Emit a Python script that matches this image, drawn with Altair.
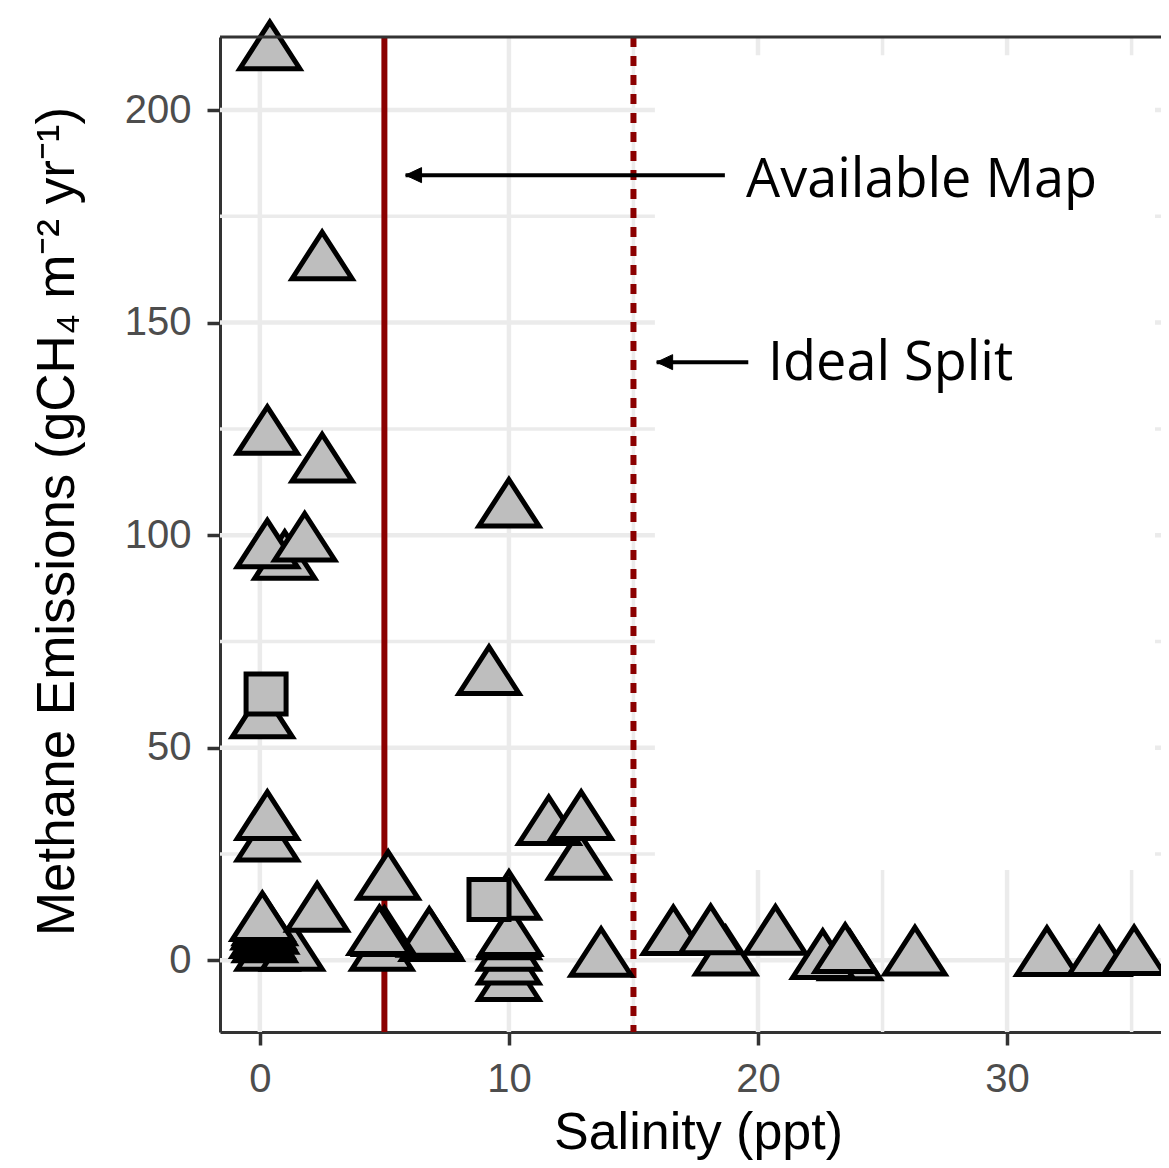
import altair as alt
import pandas as pd

# ---------------- data ----------------
tri_salinity = [0.4, 2.5, 0.3, 2.5, 0.3, 1.0, 1.8, 10.0, 9.2, 0.1, 0.3, 0.3,
                0.1, 0.2, 0.15, 0.25, 0.1, 0.2, 0.3, 1.3, 2.3,
                5.15, 4.8, 5.0, 4.9, 6.8, 6.9,
                10.0, 10.0, 10.05, 10.0, 10.0, 10.0,
                11.6, 12.9, 12.8, 13.7,
                16.6, 18.1, 18.7, 20.7, 22.6, 23.5, 23.7, 26.3, 31.6, 33.7, 35.1]
tri_methane = [213.4, 164.0, 122.9, 116.4, 96.2, 93.5, 97.8, 105.8, 66.4, 56.2, 32.3, 27.2,
               8.5, 7.5, 6.5, 5.5, 4.5, 3.5, 1.5, 1.5, 10.7,
               18.2, 5.2, 5.0, 1.5, 4.8, 3.8,
               13.5, 4.2, 5.0, 1.5, -1.7, -5.6,
               31.1, 32.3, 22.9, 0.1,
               5.2, 5.4, 0.4, 5.3, -0.4, 1.0, -0.7, 0.4, 0.3, 0.3, 0.5]
sq_salinity = [0.25, 9.2]
sq_methane = [62.6, 14.3]

split_values = [5, 15]            # solid (available map), dashed (ideal split)

x_ticks = [0, 10, 20, 30]
x_minor = [5, 15, 25, 35]
y_ticks = [0, 50, 100, 150, 200]
y_minor = [25, 75, 125, 175]

ann_text = ["Available Map", "Ideal Split"]
ann_x = [19.52, 20.4]
ann_y = [179.6, 136.6]
arrow_tip_x = [5.85, 15.93]
arrow_tail_x = [18.67, 19.61]
arrow_y = [184.7, 140.7]

# white annotation box pasted over the panel (hides grid lines)
box_x = [15.86, 35.94]
box_y = [21.2, 212.9]

x_domain = [-1.6, 36.18]
y_domain = [-16.9, 217.2]

W, H = 941, 995

TRI = "M0,-1.033L1,0.517L-1,0.517Z"
ARROW = "M0,0L1,-0.47L1,0.47Z"
GRID = "#EBEBEB"
DARK = "#333333"

xs = alt.Scale(domain=x_domain, nice=False, zero=False)
ys = alt.Scale(domain=y_domain, nice=False, zero=False)

x_axis = alt.Axis(values=x_ticks, title="Salinity (ppt)", grid=False,
                  labelFont="Liberation Sans", labelFontSize=40, labelColor="#4D4D4D",
                  labelPadding=14, labelFlush=False, labelOverlap=False,
                  tickSize=13, tickWidth=3.5, tickColor=DARK,
                  domainColor=DARK, domainWidth=3,
                  titleFont="Liberation Sans", titleFontSize=52, titleFontWeight="normal",
                  titleColor="black", titleX=478, titleY=116, titleAlign="center",
                  titleBaseline="alphabetic")
y_axis = alt.Axis(values=y_ticks, title="Methane Emissions (gCH\u2084 m\u207b\u00b2 yr\u207b\u00b9)",
                  grid=False,
                  labelFont="Liberation Sans", labelFontSize=40, labelColor="#4D4D4D",
                  labelPadding=16, labelFlush=False, labelOverlap=False,
                  tickSize=13, tickWidth=3.5, tickColor=DARK,
                  domainColor=DARK, domainWidth=3,
                  titleFont="Liberation Sans", titleFontSize=53, titleFontWeight="normal",
                  titleColor="black", titleX=-147, titleY=484, titleAngle=270,
                  titleAlign="center", titleBaseline="alphabetic")


def X(field):
    return alt.X(f"{field}:Q", scale=xs, axis=x_axis)


def Y(field):
    return alt.Y(f"{field}:Q", scale=ys, axis=y_axis)


tri_df = pd.DataFrame({"salinity": tri_salinity, "methane": tri_methane})
sq_df = pd.DataFrame({"salinity": sq_salinity, "methane": sq_methane})

tris = alt.Chart(tri_df).mark_point(
    shape=TRI, size=3600, filled=True, fill="#BEBEBE", stroke="black",
    strokeWidth=5, opacity=1, fillOpacity=1, strokeOpacity=1).encode(
    x=X("salinity"), y=Y("methane"), order=alt.Order("methane:Q", sort="ascending"))

gx_major = alt.Chart(pd.DataFrame({"salinity": x_ticks})).mark_rule(
    color=GRID, strokeWidth=4.5).encode(x=X("salinity"))
gx_minor = alt.Chart(pd.DataFrame({"salinity": x_minor})).mark_rule(
    color=GRID, strokeWidth=3.5).encode(x=X("salinity"))
gy_major = alt.Chart(pd.DataFrame({"methane": y_ticks})).mark_rule(
    color=GRID, strokeWidth=4.5).encode(y=Y("methane"))
gy_minor = alt.Chart(pd.DataFrame({"methane": y_minor})).mark_rule(
    color=GRID, strokeWidth=3.5).encode(y=Y("methane"))

box = alt.Chart(pd.DataFrame({"salinity": [box_x[0]], "x1": [box_x[1]],
                              "methane": [box_y[0]], "y1": [box_y[1]]})).mark_rect(
    color="white", opacity=1).encode(
    x=X("salinity"), x2="x1:Q", y=Y("methane"), y2="y1:Q")

solid = alt.Chart(pd.DataFrame({"salinity": [split_values[0]]})).mark_rule(
    color="#8B0000", strokeWidth=6).encode(x=X("salinity"))
dashed = alt.Chart(pd.DataFrame({"salinity": [split_values[1]]})).mark_rule(
    color="#8B0000", strokeWidth=6, strokeDash=[10, 9]).encode(x=X("salinity"))

sqs = alt.Chart(sq_df).mark_point(
    shape="square", size=1600, filled=True, fill="#BEBEBE", stroke="black",
    strokeWidth=5, opacity=1, fillOpacity=1, strokeOpacity=1).encode(
    x=X("salinity"), y=Y("methane"))

arr_df = pd.DataFrame({"salinity": arrow_tip_x, "tail": arrow_tail_x, "methane": arrow_y})
shafts = alt.Chart(arr_df).mark_rule(color="black", strokeWidth=4).encode(
    x=X("salinity"), x2="tail:Q", y=Y("methane"))
heads = alt.Chart(arr_df).mark_point(
    shape=ARROW, size=1024, filled=True, fill="black", stroke="black",
    strokeWidth=1, opacity=1).encode(x=X("salinity"), y=Y("methane"))

labels = alt.Chart(pd.DataFrame({"t": ann_text, "salinity": ann_x, "methane": ann_y})).mark_text(
    align="left", baseline="alphabetic", font="Open Sans", fontSize=54, color="black").encode(
    x=X("salinity"), y=Y("methane"), text="t:N")

top_border = alt.Chart(pd.DataFrame({"a": [0]})).mark_rule(color=DARK, strokeWidth=3).encode(
    x=alt.value(0), x2=alt.value(W), y=alt.value(0))

chart = alt.layer(
    tris.mark_point(opacity=0, shape=TRI, size=1),   # first layer carries the axes
    gx_minor, gx_major, gy_minor, gy_major, box, solid, dashed,
    tris, sqs, shafts, heads, labels, top_border
).properties(
    width=W, height=H,
    padding={"left": 212, "top": 29, "right": 0, "bottom": 128},
    autosize=alt.AutoSizeParams(type="none"),
).configure_view(stroke=None).configure(background="white")

chart.save("out.html", embed_options={"renderer": "svg", "actions": False})
